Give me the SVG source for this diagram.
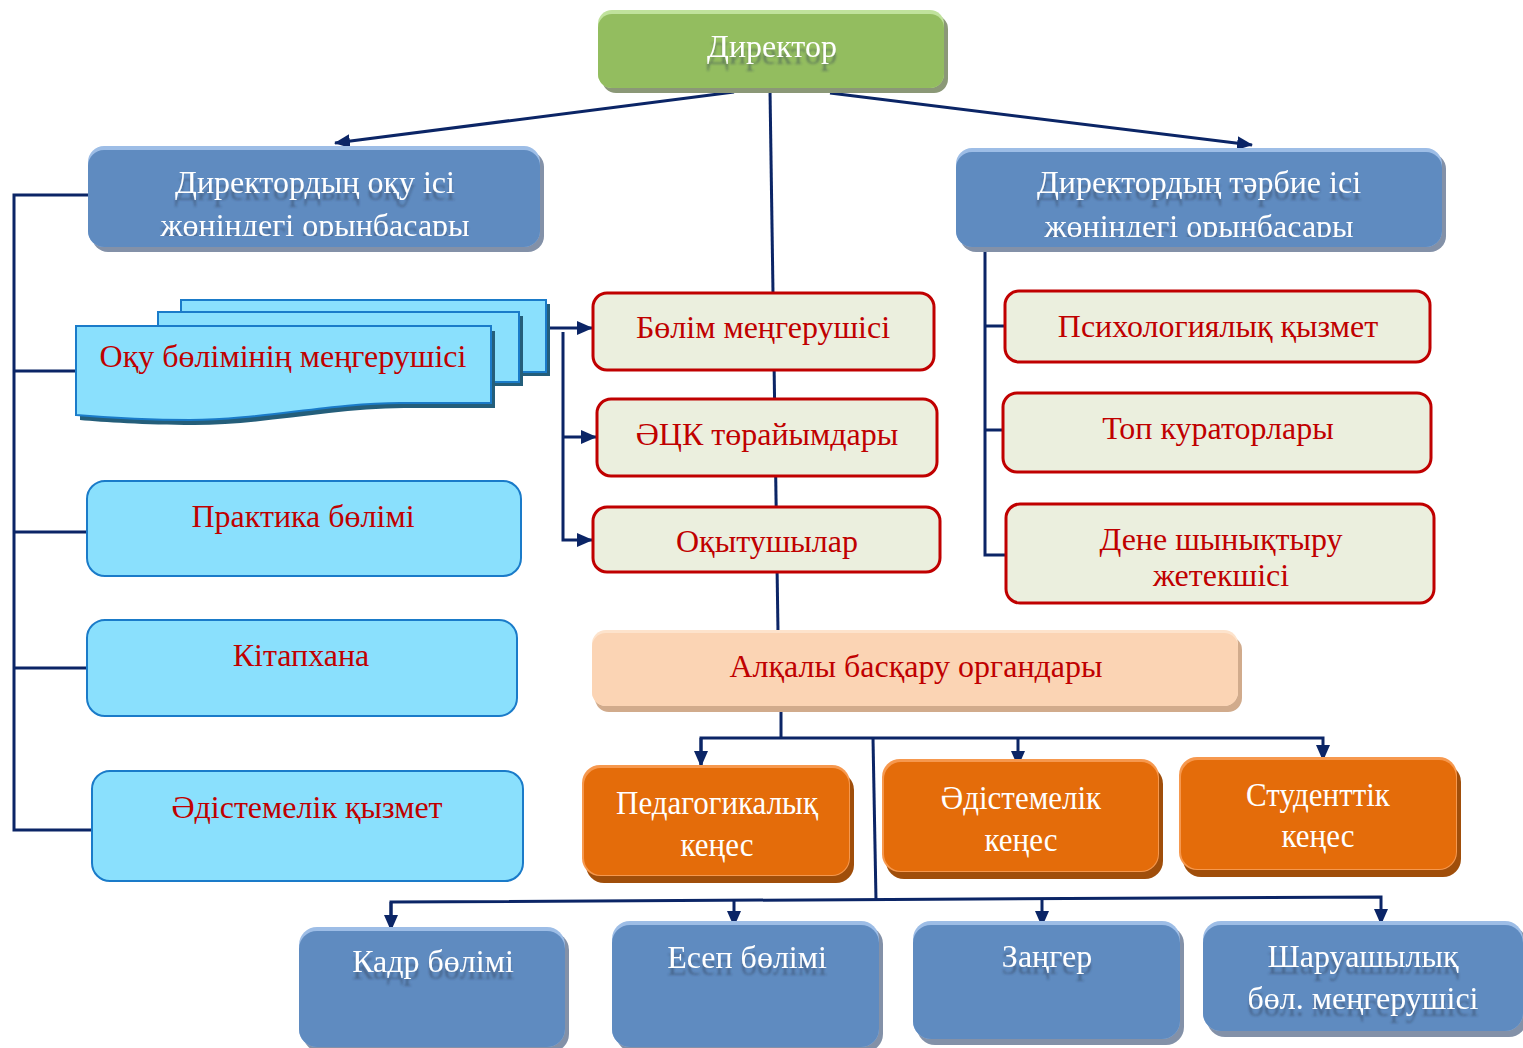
<svg xmlns="http://www.w3.org/2000/svg" width="1523" height="1048" viewBox="0 0 1523 1048">
<defs>
<style>
.t{font-family:"Liberation Serif","Times New Roman",serif;text-anchor:middle}
.w{fill:#ffffff;font-size:32px}
.r{fill:#c00000;font-size:32px}
.o{fill:#ffffff;font-size:31px}
.ln{fill:none;stroke:#0b2566;stroke-width:3}
.bm{fill:#5f8bc0}.bh{fill:#9dbde6}.bs{fill:#8391a8}
.cy{fill:#8ae0fd;stroke:#1a7bc9;stroke-width:2}
.bg{fill:#ebefde;stroke:#c00000;stroke-width:3}
.om{fill:#e46c0a}.oh{fill:#f6984e}.os{fill:#a04e0a}
</style>
<marker id="ar" markerWidth="16" markerHeight="14" refX="15" refY="7" orient="auto" markerUnits="userSpaceOnUse">
<path d="M0,0 L16,7 L0,14 Z" fill="#0b2566"/>
</marker>
<filter id="sh" x="-10%" y="-30%" width="120%" height="180%">
<feDropShadow dx="0" dy="7" stdDeviation="1.2" flood-color="#2b3a55" flood-opacity="0.45"/>
</filter>
<clipPath id="cl1"><rect x="88" y="150" width="456" height="86"/></clipPath>
<clipPath id="cl2"><rect x="956" y="152" width="490" height="85"/></clipPath>
</defs>
<rect width="1523" height="1048" fill="#ffffff"/>

<g id="connectors">
<line class="ln" x1="770" y1="90" x2="778" y2="632"/>
<line class="ln" x1="734" y1="92" x2="335" y2="143" marker-end="url(#ar)"/>
<line class="ln" x1="830" y1="93" x2="1252" y2="145" marker-end="url(#ar)"/>
<polyline class="ln" points="88,195 14,195 14,830 92,830"/>
<line class="ln" x1="14" y1="371" x2="77" y2="371"/>
<line class="ln" x1="14" y1="532" x2="87" y2="532"/>
<line class="ln" x1="14" y1="668" x2="88" y2="668"/>
<line class="ln" x1="546" y1="328" x2="592" y2="328" marker-end="url(#ar)"/>
<polyline class="ln" points="563,332 563,540 592,540" marker-end="url(#ar)"/>
<line class="ln" x1="563" y1="437" x2="596" y2="437" marker-end="url(#ar)"/>
<polyline class="ln" points="985,252 985,555 1006,555"/>
<line class="ln" x1="985" y1="326" x2="1005" y2="326"/>
<line class="ln" x1="985" y1="430" x2="1003" y2="430"/>
<line class="ln" x1="781" y1="710" x2="781" y2="738"/>
<polyline class="ln" points="701,766 701,738 1323,738 1323,760" marker-end="url(#ar)"/>
<line class="ln" x1="701" y1="738" x2="701" y2="766" marker-end="url(#ar)"/>
<line class="ln" x1="1018" y1="738" x2="1018" y2="766" marker-end="url(#ar)"/>
<line class="ln" x1="873" y1="738" x2="876" y2="900"/>
<polyline class="ln" points="391,930 391,902 1381,897 1381,924" marker-end="url(#ar)"/>
<line class="ln" x1="391" y1="902" x2="391" y2="930" marker-end="url(#ar)"/>
<line class="ln" x1="734" y1="900" x2="734" y2="926" marker-end="url(#ar)"/>
<line class="ln" x1="1042" y1="899" x2="1042" y2="926" marker-end="url(#ar)"/>
</g>

<g id="director">
<rect x="602" y="15" width="346" height="78" rx="14" fill="#8b9877"/>
<rect x="598" y="10" width="346" height="78" rx="14" fill="#c0e29c"/>
<rect x="598" y="14" width="346" height="74" rx="14" fill="#93bd5f"/>
<text class="t w" x="772" y="57" filter="url(#sh)">Директор</text>
</g>

<g id="deputy-study">
<rect class="bs" x="92" y="151" width="452" height="101" rx="16"/>
<rect class="bh" x="88" y="146" width="452" height="101" rx="16"/>
<rect class="bm" x="88" y="150" width="452" height="97" rx="16"/>
<g clip-path="url(#cl1)">
<text class="t w" x="315" y="193" filter="url(#sh)">Директордың оқу ісі</text>
<text class="t w" x="315" y="236" filter="url(#sh)">жөніндегі орынбасары</text>
</g>
</g>

<g id="deputy-upbringing">
<rect class="bs" x="960" y="153" width="486" height="99" rx="16"/>
<rect class="bh" x="956" y="148" width="486" height="99" rx="16"/>
<rect class="bm" x="956" y="152" width="486" height="95" rx="16"/>
<g clip-path="url(#cl2)">
<text class="t w" x="1199" y="193" filter="url(#sh)">Директордың тәрбие ісі</text>
<text class="t w" x="1199" y="237" filter="url(#sh)">жөніндегі орынбасары</text>
</g>
</g>

<g id="study-head">
<rect x="185" y="304" width="365" height="72" fill="#245e7a"/>
<rect class="cy" x="181" y="300" width="365" height="72"/>
<rect x="162" y="316" width="361" height="70" fill="#245e7a"/>
<rect class="cy" x="158" y="312" width="361" height="70"/>
<path d="M80,331 H495 V408 H404 C334,408 264,425 194,425 C144,425 104,422 80,420 Z" fill="#245e7a"/>
<path class="cy" d="M76,326 H491 V403 H400 C330,403 260,420 190,420 C140,420 100,417 76,415 Z"/>
<text class="t r" x="283" y="367">Оқу бөлімінің меңгерушісі</text>
</g>

<g id="dept-head">
<rect class="bg" x="593" y="293" width="341" height="77" rx="14"/>
<text class="t r" x="763" y="338">Бөлім меңгерушісі</text>
</g>
<g id="cmc-chairs">
<rect class="bg" x="597" y="399" width="340" height="77" rx="14"/>
<text class="t r" x="767" y="445">ӘЦК төрайымдары</text>
</g>
<g id="teachers">
<rect class="bg" x="593" y="507" width="347" height="65" rx="14"/>
<text class="t r" x="767" y="552">Оқытушылар</text>
</g>

<g id="psych">
<rect class="bg" x="1005" y="291" width="425" height="71" rx="14"/>
<text class="t r" x="1218" y="337">Психологиялық қызмет</text>
</g>
<g id="curators">
<rect class="bg" x="1003" y="393" width="428" height="79" rx="14"/>
<text class="t r" x="1218" y="439">Топ кураторлары</text>
</g>
<g id="pe-head">
<rect class="bg" x="1006" y="504" width="428" height="99" rx="14"/>
<text class="t r" x="1221" y="550">Дене шынықтыру</text>
<text class="t r" x="1221" y="586">жетекшісі</text>
</g>

<g id="practice">
<rect class="cy" x="87" y="481" width="434" height="95" rx="18"/>
<text class="t r" x="303" y="527">Практика бөлімі</text>
</g>
<g id="library">
<rect class="cy" x="87" y="620" width="430" height="96" rx="18"/>
<text class="t r" x="301" y="666">Кітапхана</text>
</g>
<g id="method-service">
<rect class="cy" x="92" y="771" width="431" height="110" rx="18"/>
<text class="t r" x="307" y="818">Әдістемелік қызмет</text>
</g>

<g id="collegial">
<rect x="595" y="636" width="647" height="76" rx="14" fill="#d1ab8c"/>
<rect x="592" y="630" width="646" height="76" rx="14" fill="#fde3cc"/>
<rect x="592" y="633" width="646" height="73" rx="14" fill="#fbd4b4"/>
<text class="t r" x="916" y="677">Алқалы басқару органдары</text>
</g>

<g id="ped-council">
<rect class="os" x="586" y="772" width="268" height="111" rx="18"/>
<rect class="oh" x="582" y="765" width="268" height="111" rx="18"/>
<rect class="om" x="584" y="768" width="265" height="107" rx="17"/>
<text class="t o" transform="translate(717,814) scale(1,1.12)">Педагогикалық</text>
<text class="t o" transform="translate(717,856) scale(1,1.12)">кеңес</text>
</g>
<g id="method-council">
<rect class="os" x="886" y="766" width="277" height="113" rx="18"/>
<rect class="oh" x="882" y="759" width="277" height="113" rx="18"/>
<rect class="om" x="884" y="762" width="274" height="109" rx="17"/>
<text class="t o" transform="translate(1021,809) scale(1,1.12)">Әдістемелік</text>
<text class="t o" transform="translate(1021,851) scale(1,1.12)">кеңес</text>
</g>
<g id="student-council">
<rect class="os" x="1183" y="764" width="278" height="113" rx="18"/>
<rect class="oh" x="1179" y="757" width="278" height="113" rx="18"/>
<rect class="om" x="1181" y="760" width="275" height="109" rx="17"/>
<text class="t o" transform="translate(1318,806) scale(1,1.12)">Студенттік</text>
<text class="t o" transform="translate(1318,847) scale(1,1.12)">кеңес</text>
</g>

<g id="hr">
<rect class="bs" x="303" y="932" width="266" height="120" rx="18"/>
<rect class="bh" x="299" y="927" width="266" height="120" rx="18"/>
<rect class="bm" x="299" y="931" width="266" height="116" rx="18"/>
<text class="t w" x="433" y="972" filter="url(#sh)">Кадр бөлімі</text>
</g>
<g id="accounting">
<rect class="bs" x="616" y="926" width="267" height="126" rx="18"/>
<rect class="bh" x="612" y="921" width="267" height="126" rx="18"/>
<rect class="bm" x="612" y="925" width="267" height="122" rx="18"/>
<text class="t w" x="747" y="968" filter="url(#sh)">Есеп бөлімі</text>
</g>
<g id="lawyer">
<rect class="bs" x="917" y="926" width="267" height="119" rx="18"/>
<rect class="bh" x="913" y="921" width="267" height="118" rx="18"/>
<rect class="bm" x="913" y="925" width="267" height="114" rx="18"/>
<text class="t w" x="1047" y="967" filter="url(#sh)">Заңгер</text>
</g>
<g id="household">
<rect class="bs" x="1207" y="926" width="320" height="111" rx="18"/>
<rect class="bh" x="1203" y="921" width="320" height="110" rx="18"/>
<rect class="bm" x="1203" y="925" width="320" height="106" rx="18"/>
<text class="t w" x="1363" y="967" filter="url(#sh)">Шаруашылық</text>
<text class="t w" x="1363" y="1009" filter="url(#sh)">бөл. меңгерушісі</text>
</g>
</svg>
